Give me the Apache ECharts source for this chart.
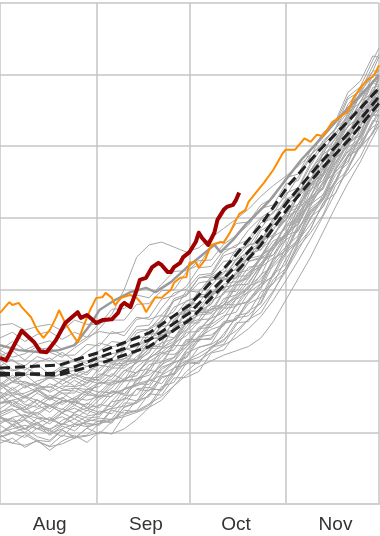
<!DOCTYPE html>
<html><head><meta charset="utf-8">
<script src="https://cdn.jsdelivr.net/npm/echarts@6/dist/echarts.min.js"></script>
<style>html,body{margin:0;padding:0;background:#fff}#c{width:380px;height:536px}</style>
</head><body><div id="c"></div>
<script>
// x axis: days from Aug 1 (0) to Dec 1 (122)
const monthLabels = ['Aug', 'Sep', 'Oct', 'Nov'];
const monthLengths = [31, 30, 31, 30];
const labelDays = [16, 47, 76, 108];

// y axis ticks
const yMin = 0, yMax = 700, yStep = 100;

// sampling days for the gray ensemble
const grayDays = [0,4,8,12,16,20,24,28,32,36,40,44,48,52,56,60,64,68,72,76,80,84,88,92,96,100,104,108,112,116,120,122];

const grayLines = [
 [85,92,79,89,75,88,96,86,101,98,124,145,150,176,183,214,230,230,253,257,286,304,320,359,375,413,428,466,498,511,543,552],
 [97,85,97,87,81,96,92,106,98,115,131,129,138,164,170,197,196,219,228,253,255,288,309,325,363,384,421,434,472,500,517,534],
 [94,100,106,94,89,104,92,106,117,113,136,142,175,195,204,224,247,252,279,278,304,319,357,376,400,446,462,497,514,548,574,580],
 [110,99,93,106,103,94,111,113,110,131,127,131,154,152,176,177,185,211,215,238,258,267,296,330,359,379,404,445,462,485,521,528],
 [99,111,104,114,100,111,119,110,112,133,137,161,163,188,199,228,227,251,263,268,295,308,342,354,390,423,442,474,505,519,557,559],
 [115,120,105,114,103,117,124,115,130,126,145,160,158,178,181,211,219,224,252,257,280,289,323,352,365,401,425,452,488,501,536,534],
 [121,117,105,120,118,111,126,120,122,143,146,175,180,193,225,235,255,273,274,293,315,337,348,370,408,425,450,488,511,542,557,564],
 [112,121,125,113,121,111,128,134,128,134,152,152,174,168,190,195,219,223,234,263,267,296,308,342,368,391,416,450,485,498,518,543],
 [129,133,119,128,116,128,134,125,139,136,160,168,173,199,205,230,230,254,273,276,298,315,337,369,381,419,432,470,504,515,549,550],
 [122,130,135,122,118,133,127,141,134,152,160,185,189,217,232,243,267,271,296,297,322,346,361,391,419,437,477,494,516,554,573,595],
 [127,139,128,124,137,128,143,135,137,158,154,171,187,183,199,220,234,236,249,278,282,301,335,355,386,405,427,467,492,506,546,556],
 [141,142,129,127,138,132,146,134,151,150,172,175,184,211,215,240,241,263,279,288,301,330,361,375,396,439,452,489,522,535,568,568],
 [142,145,131,139,128,144,142,138,157,155,176,179,205,225,231,258,267,280,303,306,331,333,362,388,394,427,443,482,515,527,561,561],
 [133,145,136,146,133,145,141,155,148,167,172,172,195,198,221,222,244,260,267,287,305,311,343,354,369,407,428,465,479,513,544,543],
 [140,152,139,135,148,139,149,158,150,162,182,198,203,217,248,257,267,291,301,322,327,342,377,398,411,454,479,497,538,553,574,599],
 [156,139,149,140,152,145,143,161,156,172,171,191,205,212,225,248,267,268,278,306,307,336,362,372,404,419,461,490,506,529,565,569],
 [156,151,142,155,145,155,145,160,170,166,186,197,213,236,242,271,269,293,314,315,339,345,376,402,410,444,459,496,528,540,573,574],
 [147,156,149,159,146,159,158,152,170,169,187,183,203,217,222,242,257,259,287,292,301,331,344,375,382,416,449,463,487,525,542,564],
 [150,163,151,159,148,159,162,160,164,179,198,201,211,239,243,272,289,290,313,316,346,367,376,397,431,450,489,500,539,555,592,595],
 [167,152,155,162,164,155,155,173,168,174,194,199,217,218,227,255,264,266,296,309,315,347,358,377,413,429,469,484,508,546,560,580],
 [167,154,164,168,156,165,164,168,182,178,200,200,227,248,251,279,280,305,325,327,351,355,383,407,414,446,462,503,527,544,582,584],
 [160,170,166,156,168,161,173,163,179,190,190,206,220,220,247,252,258,284,293,318,319,344,368,375,391,428,447,484,499,534,553,575],
 [163,171,171,165,163,172,181,173,174,195,193,217,237,239,264,271,298,313,316,329,355,365,397,403,436,453,492,510,534,573,587,607],
 [167,180,168,166,177,174,182,176,177,198,203,202,228,236,240,268,270,279,307,311,339,343,357,390,399,431,463,476,508,540,567,568],
 [182,172,181,167,177,182,176,185,194,191,216,220,230,258,269,298,296,318,339,341,352,382,393,424,432,467,488,525,540,576,598,600],
 [189,176,182,179,179,189,179,193,185,204,217,213,232,231,256,275,274,296,299,324,343,347,374,384,419,440,459,499,517,550,563,586],
 [192,186,191,181,176,191,190,183,204,210,213,239,244,254,284,291,316,317,328,356,360,385,409,416,441,473,502,518,544,583,597,607],
 [201,188,182,195,181,193,200,192,206,202,224,234,232,239,262,267,291,288,314,320,347,356,372,408,419,453,469,505,534,553,576,595],
 [193,202,187,198,204,192,203,196,214,227,225,248,250,274,295,300,320,322,351,362,369,398,406,434,442,477,508,523,558,580,605,625],
 [211,200,193,206,200,212,200,213,225,220,222,243,244,263,261,284,290,313,315,341,353,360,391,403,434,445,482,512,532,562,590,591],
 [207,214,201,216,218,208,208,223,221,241,235,258,261,286,291,304,330,332,355,359,383,400,412,430,457,488,503,525,566,577,612,629],
 [215,227,215,223,228,216,222,233,241,238,241,261,258,264,284,291,309,312,322,350,362,367,400,418,429,466,483,506,547,561,599,599],
 [232,240,227,237,241,230,240,233,253,257,257,279,280,298,299,324,340,341,363,375,390,413,418,447,452,486,519,532,569,583,620,637],
 [250,252,243,248,251,242,257,251,251,272,273,292,288,307,325,326,334,360,367,392,394,418,428,456,461,494,518,535,575,591,626,624],
 [215,205,210,220,212,205,218,230,245,265,300,345,362,366,359,352,358,372,385,398,412,430,445,458,472,488,505,525,548,568,590,598],
 [120,115,118,110,105,112,108,115,120,118,125,130,140,150,165,180,192,200,208,214,220,232,255,285,315,345,380,415,448,478,512,528],
 [90,85,82,88,80,84,92,95,100,98,105,118,135,160,190,215,235,255,272,290,310,332,355,380,405,430,458,485,512,538,560,570],
 [140,145,150,145,138,142,148,145,150,155,160,165,172,180,190,200,210,220,230,242,258,275,298,325,355,385,420,452,485,515,545,556],
 [100,105,110,105,98,105,112,108,112,118,122,128,135,145,165,185,200,212,222,232,245,262,285,312,340,370,402,435,468,500,532,545],
 [99,109,100,112,96,109,102,118,115,119,141,141,160,160,183,199,205,216,238,260,263,282,321,335,373,410,425,460,476,516,543,543],
 [125,133,121,133,138,127,138,130,146,158,152,168,167,191,198,204,229,232,255,258,284,308,318,349,370,398,433,448,486,497,533,551],
 [151,137,132,145,137,149,138,152,152,170,173,201,217,225,258,271,293,292,317,335,342,364,386,396,430,445,466,506,528,563,574,595],
 [148,160,148,161,149,147,162,155,169,182,173,184,199,210,209,219,245,247,260,286,296,321,332,350,386,410,426,468,494,510,548,550],
 [170,160,171,162,158,174,165,177,172,189,203,212,227,250,275,283,290,316,317,342,362,365,390,397,431,456,471,496,535,552,589,585],
 [123,111,124,120,112,127,119,131,125,144,162,166,190,205,224,253,253,276,277,303,324,331,363,377,414,448,462,498,514,549,578,577],
 [186,171,180,183,175,182,187,180,199,197,196,216,218,236,232,253,271,271,282,310,317,343,348,378,392,426,440,478,503,518,555,558],
 [93,99,100,89,87,103,94,96,113,116,135,141,152,181,197,206,233,244,250,278,283,303,342,359,400,420,443,483,500,533,563,561],
 [165,177,162,172,177,167,177,169,190,200,203,217,246,256,287,293,316,320,347,353,364,393,399,426,434,466,494,515,541,573,605,605],
 [121,110,117,105,116,122,112,123,126,134,148,144,163,158,180,199,197,219,223,250,270,280,314,329,366,401,415,450,467,506,527,531]
];

const thickGray = [[0,222],[6,215],[13,212],[19,215],[24,222],[29,250],[32,271],[37,285],[42,296],[47,302],[50,296],[55,310],[60,330],[64,344],[69,362],[71,352],[75,369],[79,390],[83,407],[87,425],[92,453],[97,481],[103,509],[109,539],[116,571],[122,599]];

const dash1 = [[0,190],[19,194],[32,212],[48,239],[61,278],[74,338],[84,390],[93,446],[103,495],[113,539],[122,581]];
const dash2 = [[0,180],[19,183],[32,205],[48,229],[61,267],[74,324],[84,372],[93,425],[103,476],[113,522],[122,569]];
const dash3 = [[0,183],[19,180],[32,196],[48,220],[61,257],[74,314],[84,362],[93,415],[103,466],[113,512],[122,560]];

const orange = [[0,267],[3,282],[4,278],[6,281],[7,275],[10,261],[12,243],[14,232],[16,243],[18,260],[19,271],[21,253],[23,239],[25,226],[27,250],[29,271],[31,288],[33,289],[34,295],[36,288],[37,278],[39,288],[41,291],[42,292],[44,288],[46,278],[47,268],[48,275],[50,289],[52,288],[53,292],[55,299],[56,309],[58,316],[60,317],[61,337],[63,338],[64,330],[66,341],[68,362],[71,366],[72,365],[74,379],[76,397],[77,405],[79,411],[80,422],[85,449],[88,467],[91,490],[92,495],[95,495],[98,511],[100,506],[102,516],[104,514],[107,534],[109,539],[112,549],[114,569],[116,581],[118,592],[120,597],[121,604],[122,613]];

const red = [[0,204],[2,201],[7,242],[11,226],[13,213],[15,212],[18,229],[21,253],[25,268],[26,260],[28,264],[31,253],[33,257],[36,258],[38,267],[39,277],[40,281],[42,275],[44,299],[45,313],[47,316],[49,331],[51,337],[52,334],[54,324],[55,324],[56,331],[58,337],[59,345],[61,352],[63,366],[64,379],[65,372],[67,362],[69,379],[70,397],[72,411],[73,415],[75,418],[76,425],[77,435]];

// build category days and month boundaries
const dayCats = [];
const monthStarts = [];
monthLengths.forEach((len, m) => {
  monthStarts.push(dayCats.length);
  for (let d = 1; d <= len; d++) dayCats.push(monthLabels[m] + ' ' + d);
});
monthStarts.push(dayCats.length);
dayCats.push('Dec 1');
const totalDays = dayCats.length - 1;

const series = [];
grayLines.forEach((vals) => {
  series.push({
    type: 'line', xAxisIndex: 0, symbol: 'none', silent: true,
    data: grayDays.map((d, k) => [d, vals[k]]),
    lineStyle: { color: '#a6a6a6', width: 1 }, z: 2
  });
});
series.push({ type: 'line', xAxisIndex: 0, symbol: 'none', data: thickGray,
  lineStyle: { color: '#9a9a9a', width: 2.5 }, z: 3 });
[dash1, dash2, dash3].forEach(d => series.push({ type: 'line', xAxisIndex: 0, symbol: 'none', data: d,
  lineStyle: { color: '#222', width: 3, type: [10, 5] }, z: 4 }));
series.push({ type: 'line', xAxisIndex: 0, symbol: 'none', data: orange,
  lineStyle: { color: '#ff8c00', width: 2 }, z: 5 });
series.push({ type: 'line', xAxisIndex: 0, symbol: 'none', data: red,
  lineStyle: { color: '#a00000', width: 4, join: 'round' }, z: 6 });

const chart = echarts.init(document.getElementById('c'), null, { renderer: 'canvas' });
chart.setOption({
  animation: false,
  grid: { left: 0, right: 1, top: 3, bottom: 32, containLabel: false },
  xAxis: [
    { type: 'value', min: 0, max: totalDays, show: false, splitLine: { show: false } },
    { type: 'category', data: dayCats, boundaryGap: false, position: 'bottom',
      axisLine: { show: true, lineStyle: { color: '#cfcfcf', width: 2 } },
      axisTick: { show: false },
      splitLine: { show: true, interval: (i) => monthStarts.includes(i), lineStyle: { color: '#c4c4c4', width: 1.5 } },
      axisLabel: { interval: (i) => labelDays.includes(i), margin: 11,
        formatter: (v, i) => monthLabels[labelDays.indexOf(i)] || '',
        color: '#333', fontSize: 19, fontFamily: 'Liberation Sans, Arial, sans-serif' } }
  ],
  yAxis: { type: 'value', min: yMin, max: yMax, interval: yStep,
    axisLabel: { show: false }, axisLine: { show: false }, axisTick: { show: false },
    splitLine: { lineStyle: { color: '#d4d4d4', width: 2 } } },
  series: series
});
</script></body></html>
